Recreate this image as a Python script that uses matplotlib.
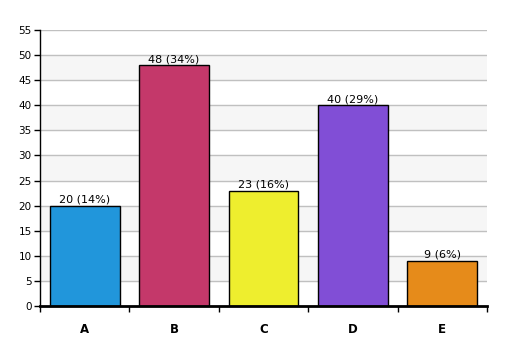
import numpy as np
import matplotlib.pyplot as plt

categories = ['A', 'B', 'C', 'D', 'E']
values = [20, 48, 23, 40, 9]
percents = [14, 34, 16, 29, 6]
colors = ['#2196db', '#c4386a', '#eeee2e', '#814ed6', '#e68b1a']

fig = plt.figure(figsize=(5.07, 3.56), dpi=100)
ax = fig.add_axes([40/507, 1-306/356, 447/507, 276/356])

# alternating background bands
for lo in range(5, 55, 10):
    ax.axhspan(lo, lo + 5, color='#f6f6f6', zorder=0)
for y in range(5, 60, 5):
    ax.axhline(y, color='#c0c0c0', lw=1, zorder=1)

x = np.arange(len(categories))
ax.bar(x, values, width=0.78, color=colors, edgecolor='black', lw=1, zorder=2)
for xi, v, p in zip(x, values, percents):
    ax.text(xi, v + 0.2, f'{v} ({p}%)', ha='center', va='bottom', fontsize=8, zorder=3)

ax.set_xlim(-0.5, len(categories) - 0.5)
ax.set_ylim(0, 55)
ax.set_yticks(range(0, 60, 5))
ax.set_xticks(np.arange(-0.5, len(categories), 1))
ax.set_xticklabels([])
ax.set_xticks(x, minor=True)
ax.set_xticklabels(categories, minor=True, fontweight='bold', fontsize=8.5)
ax.tick_params(axis='x', which='minor', length=0, pad=12)
ax.tick_params(axis='x', which='major', length=4, width=1)
ax.tick_params(axis='y', length=4, width=1, labelsize=7.5, pad=2)

for s in ['top', 'right']:
    ax.spines[s].set_visible(False)
ax.spines['bottom'].set_linewidth(2)
ax.spines['left'].set_linewidth(1)

fig.savefig('out.png', dpi=100)
